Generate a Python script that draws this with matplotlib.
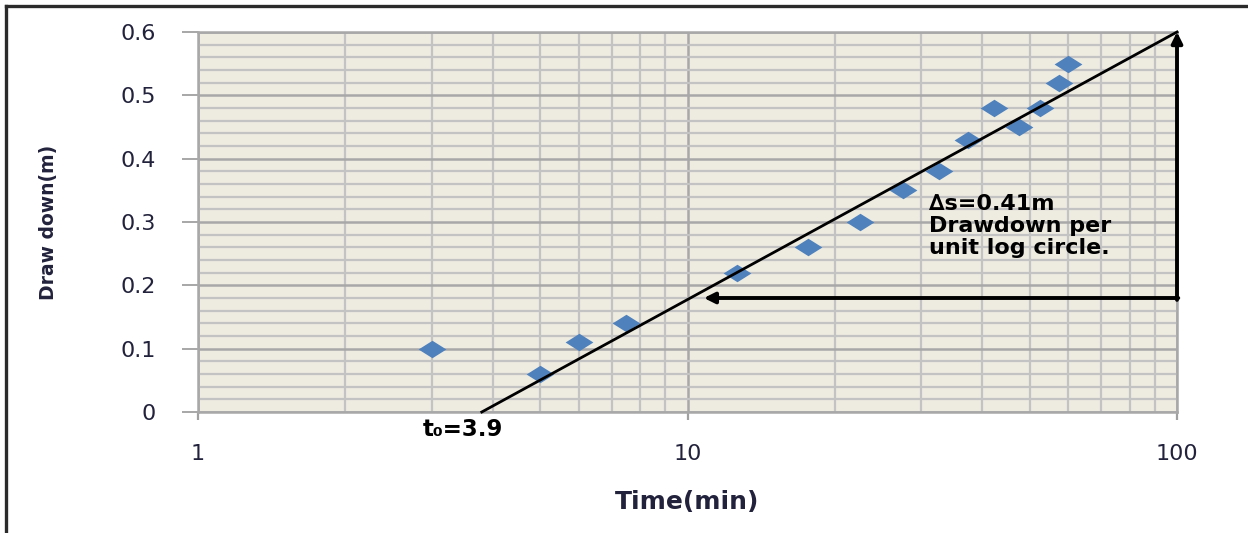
import matplotlib.pyplot as plt
from matplotlib.lines import Line2D
from matplotlib.ticker import LogLocator, MultipleLocator, NullFormatter, FixedLocator

# data
time_min = [3.0, 5.0, 6.0, 7.5, 12.6, 17.6, 22.5, 27.6, 32.6, 37.4, 42.2, 47.5, 52.5, 57.4, 60.0]
drawdown_m = [0.10, 0.06, 0.11, 0.14, 0.22, 0.26, 0.30, 0.35, 0.38, 0.43, 0.48, 0.45, 0.48, 0.52, 0.55]

fit_t = [3.8, 100]
fit_s = [0.0, 0.6]

x_ticks = [1, 10, 100]
x_tick_labels = ["1", "10", "100"]
y_ticks = [0, 0.1, 0.2, 0.3, 0.4, 0.5, 0.6]
y_tick_labels = ["0", "0.1", "0.2", "0.3", "0.4", "0.5", "0.6"]

delta_s_level = 0.18
delta_s_left = 10.8

TICK_COLOR = "#22223c"
DIAMOND = [(-1, 0), (0, 0.63), (1, 0), (0, -0.63)]

fig = plt.figure(figsize=(12.48, 5.33), dpi=100)
ax = fig.add_axes([198 / 1248, 1 - 412 / 533, (1177 - 198) / 1248, (412 - 32) / 533])
ax.set_facecolor("#eeece1")

ax.set_xscale("log")
ax.set_xlim(1, 100)
ax.set_ylim(0, 0.6)

ax.xaxis.set_major_locator(FixedLocator(x_ticks))
ax.set_xticklabels(x_tick_labels)
ax.xaxis.set_minor_locator(LogLocator(base=10, subs=range(2, 10)))
ax.xaxis.set_minor_formatter(NullFormatter())
ax.set_yticks(y_ticks)
ax.set_yticklabels(y_tick_labels)
ax.yaxis.set_minor_locator(MultipleLocator(0.02))

ax.grid(True, which="minor", color="#c3c3c3", lw=1.6)
ax.grid(True, which="major", color="#a8a8a8", lw=1.8)
ax.set_axisbelow(True)

for sp in ax.spines.values():
    sp.set_color("#a8a8a8")
    sp.set_linewidth(1.8)

ax.tick_params(axis="y", which="major", length=11.5, width=1.3, color="#a0a0a0",
               pad=19, labelsize=16, labelcolor=TICK_COLOR)
ax.tick_params(axis="x", which="major", length=5.8, width=1.6, color="#a0a0a0",
               pad=17, labelsize=16, labelcolor=TICK_COLOR)
ax.tick_params(which="minor", length=0)

ax.plot(time_min, drawdown_m, linestyle="none", marker=DIAMOND, markersize=20,
        color="#4f81bd", markeredgewidth=0, zorder=3)

ax.plot(fit_t, fit_s, color="black", lw=2, zorder=4, clip_on=False)

arrow = dict(arrowstyle="-|>", color="black", lw=2.8, mutation_scale=16,
             shrinkA=0, shrinkB=0)
ax.annotate("", xy=(100, 0.6), xytext=(100, delta_s_level - 0.003), arrowprops=arrow,
            annotation_clip=False, zorder=5)
ax.annotate("", xy=(delta_s_left, delta_s_level), xytext=(100.6, delta_s_level),
            arrowprops=arrow, annotation_clip=False, zorder=5)

ax.text(31.1, 0.345, "\u2206s=0.41m\nDrawdown per\nunit log circle.",
        ha="left", va="top", fontsize=16, fontweight="bold",
        linespacing=1.15, color="black", zorder=6)
ax.text(2.88, -0.01, "t\u2080=3.9", ha="left", va="top", fontsize=16.5,
        fontweight="bold", color="black", clip_on=False)

ax.set_xlabel("Time(min)", fontsize=18, fontweight="bold", color=TICK_COLOR)
ax.set_ylabel("Draw down(m)", fontsize=13.5, fontweight="bold", color=TICK_COLOR)
ax.yaxis.set_label_coords(-0.143, 0.5)
ax.xaxis.set_label_coords(0.5, -0.205)

# outer frame (left and top edges visible in the reference)
fig.add_artist(Line2D([5.5 / 1248, 5.5 / 1248], [0, 1 - 5.5 / 533], color="#2b2b2b", lw=2.4))
fig.add_artist(Line2D([5.5 / 1248, 1], [1 - 5.5 / 533, 1 - 5.5 / 533], color="#2b2b2b", lw=2.4))

fig.savefig("out.png", dpi=100)
